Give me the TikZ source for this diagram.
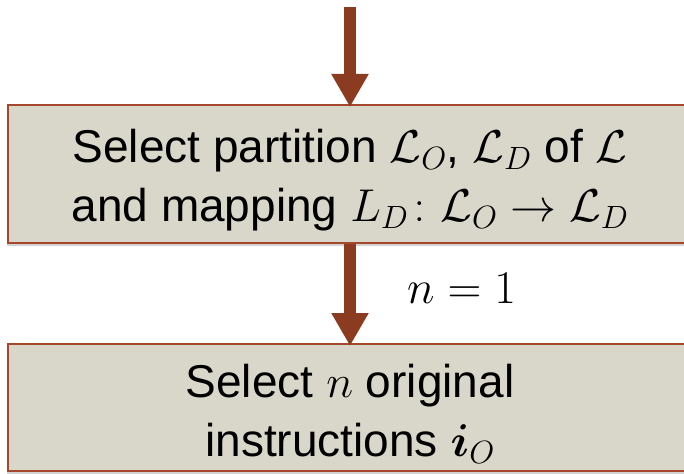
\RequirePackage{fix-cm}
\documentclass[tikz,border=0pt]{standalone}
\usepackage{amsmath, amssymb, bm}
\usepackage[no-math]{fontspec}
\setmainfont{Liberation Sans}
\usetikzlibrary{arrows.meta, shadows}
\definecolor{boxfill}{RGB}{217,215,202}
\definecolor{boxline}{RGB}{163,72,42}
\definecolor{flowarrow}{RGB}{139,59,31}
\tikzset{
  stepbox/.style={draw=boxline, line width=2pt, fill=boxfill, minimum width=684pt,
    drop shadow={shadow xshift=-1.5pt, shadow yshift=-2.5pt, opacity=0.35}},
  steptext/.style={align=center, inner sep=0pt, font=\fontsize{46}{59}\selectfont},
  flow/.style={draw=flowarrow, line width=12pt, -{Triangle[width=35pt,length=33pt]}, shorten >=-3pt}
}
\begin{document}
\begin{tikzpicture}[x=1pt, y=-1pt]
\useasboundingbox (0,0) rectangle (684,473);
% boxes
\node[stepbox, minimum height=138pt] (part) at (350,174) {};
\node[steptext, yshift=-6pt] (parttext) at (part.center)
  {Select partition $\mathcal{L}_O$, $\mathcal{L}_D$ of $\mathcal{L}$\\and mapping $L_D\colon\mathcal{L}_O\to\mathcal{L}_D$};
\node[stepbox, minimum height=127pt] (orig) at (350,407.5) {};
\node[steptext, yshift=-6pt] (origtext) at (orig.center)
  {Select $n$ original\\instructions $\bm{i}_O$};
% arrows
\coordinate (in) at (350,7);
\draw[flow] (in) -- (part.north);
\draw[flow] (part.south) -- (orig.north)
  node[midway, right=51pt, yshift=5pt, inner sep=0pt, font=\fontsize{47}{59}\selectfont] (count) {$n=1$};
\end{tikzpicture}
\end{document}
